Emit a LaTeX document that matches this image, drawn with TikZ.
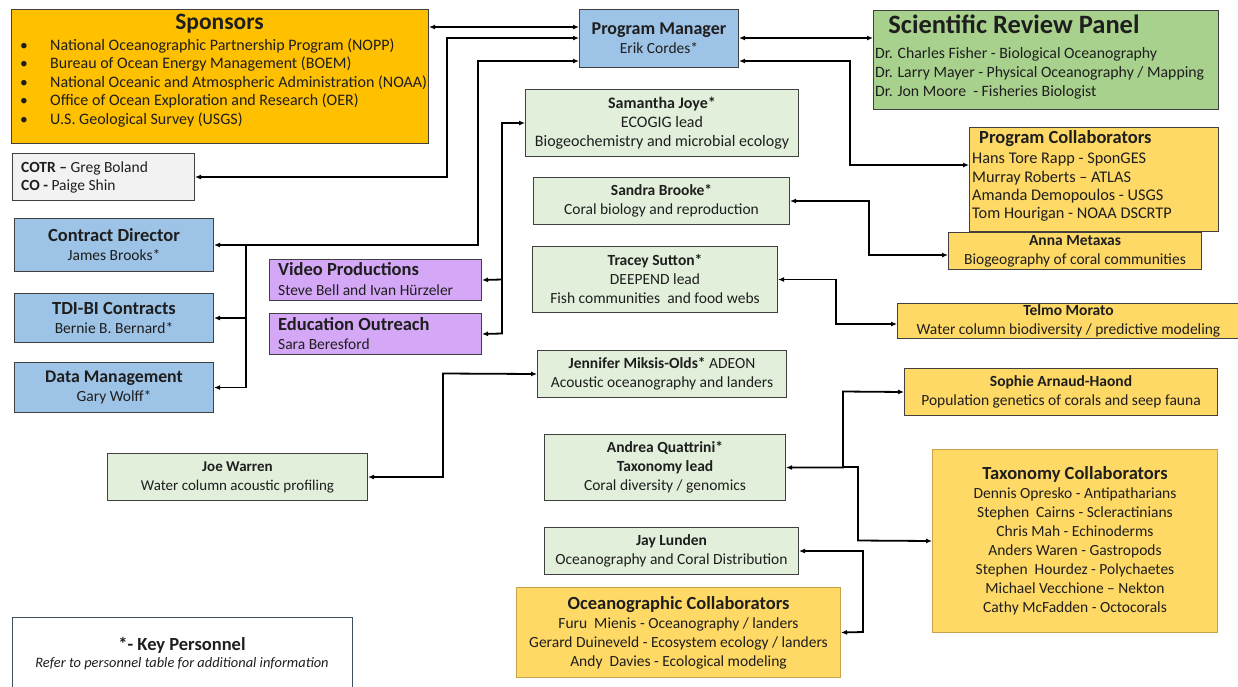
\documentclass[tikz,border=0pt]{standalone}
\usepackage{fontspec}
\setmainfont{Carlito}
\usetikzlibrary{arrows.meta}
\definecolor{sponsorY}{HTML}{FFC000}
\definecolor{collabY}{HTML}{FFD966}
\definecolor{pmblue}{HTML}{9DC3E6}
\definecolor{srpgreen}{HTML}{A9D18E}
\definecolor{lgreen}{HTML}{E2EFDA}
\definecolor{lgray}{HTML}{F2F2F2}
\definecolor{lav}{HTML}{D5A8F7}
\definecolor{bord}{HTML}{404040}
\definecolor{goldb}{HTML}{C9A24A}
\definecolor{txt}{HTML}{1E1E1E}
\definecolor{keyb}{HTML}{3F4E5E}
\newcommand\bodyf{\fontsize{15.5}{19}\selectfont}
\newcommand\headf{\fontsize{18.5}{21}\selectfont\bfseries}
\begin{document}
\begin{tikzpicture}[x=1pt,y=-1pt,
  box/.style={draw=bord, line width=1pt, inner sep=0pt, anchor=north west, font=\bodyf, align=center, text=txt},
  lbl/.style={anchor=base west, inner sep=0pt, text=txt, font=\bodyf},
  arr/.style={line width=1.8pt, -{Latex[length=6pt,width=5pt]}},
  dbl/.style={line width=1.8pt, {Latex[length=6pt,width=5pt]}-{Latex[length=6pt,width=5pt]}},
  ln/.style={line width=1.8pt}]
\useasboundingbox (0,0) rectangle (1238,686);
\fill[white] (0,0) rectangle (1238,686);

% Sponsors
\node[box, fill=sponsorY, minimum width=417pt, minimum height=134pt] (sponsors) at (11,9) {};
\node[anchor=base, inner sep=0pt, text=txt, font=\fontsize{23.5}{26}\selectfont\bfseries] at (219.5,29) {Sponsors};
\foreach \t [count=\i from 0] in {National Oceanographic Partnership Program (NOPP),Bureau of Ocean Energy Management (BOEM),National Oceanic and Atmospheric Administration (NOAA),Office of Ocean Exploration and Research (OER),U.S. Geological Survey (USGS)}{
  \node[lbl, font=\fontsize{16}{19}\selectfont] at (50,50+18.5*\i) {\t};
  \node[anchor=base, inner sep=0pt, text=txt, font=\bodyf] at (24,50+18.5*\i) {\textbullet};
}

% Program manager
\node[box, fill=pmblue, minimum width=159pt, minimum height=58pt] (pm) at (579,9) {{\fontsize{18}{21}\selectfont\bfseries Program Manager}\\Erik Cordes*};

% Scientific review panel
\node[box, fill=srpgreen, minimum width=345pt, minimum height=99pt] (srp) at (873,10) {};
\node[anchor=base, inner sep=0pt, text=txt, font=\fontsize{26.5}{28}\selectfont\bfseries] at (1014,33) {Scientific Review Panel};
\node[lbl, font=\fontsize{15.8}{19}\selectfont] at (875,58) {Dr. Charles Fisher - Biological Oceanography};
\node[lbl, font=\fontsize{15.8}{19}\selectfont] at (875,77) {Dr. Larry Mayer - Physical Oceanography / Mapping};
\node[lbl, font=\fontsize{15.8}{19}\selectfont] at (875,96) {Dr. Jon Moore\ \ - Fisheries Biologist};

% Program collaborators
\node[box, fill=collabY, minimum width=249pt, minimum height=104pt] (pc) at (969,127) {};
\node[lbl, font=\headf] at (979,143) {Program Collaborators};
\node[lbl, font=\fontsize{16.3}{19}\selectfont] at (972,163) {Hans Tore Rapp - SponGES};
\node[lbl, font=\fontsize{16.3}{19}\selectfont] at (972,182) {Murray Roberts -- ATLAS};
\node[lbl, font=\fontsize{16.3}{19}\selectfont] at (972,200) {Amanda Demopoulos - USGS};
\node[lbl, font=\fontsize{16.3}{19}\selectfont] at (972,218) {Tom Hourigan - NOAA DSCRTP};

% COTR
\node[box, fill=lgray, minimum width=182pt, minimum height=47pt] (cotr) at (12,153) {};
\node[lbl] at (21,172) {\textbf{COTR --} Greg Boland};
\node[lbl] at (21,190) {\textbf{CO -} Paige Shin};

% left blue column
\node[box, fill=pmblue, minimum width=199pt, minimum height=53pt] (cd) at (14,218) {{\headf Contract Director}\\James Brooks*};
\node[box, fill=pmblue, minimum width=199pt, minimum height=49pt] (tdi) at (14,293) {{\headf TDI-BI Contracts}\\Bernie B. Bernard*};
\node[box, fill=pmblue, minimum width=199pt, minimum height=50pt] (dm) at (14,362) {{\fontsize{17.8}{21}\selectfont\bfseries Data Management}\\Gary Wolff*};

% video / education
\node[box, fill=lav, minimum width=212pt, minimum height=41pt] (vid) at (269,259) {};
\node[lbl, font=\headf] at (278,275) {Video Productions};
\node[lbl] at (278,295) {Steve Bell and Ivan Hürzeler};
\node[box, fill=lav, minimum width=212pt, minimum height=41pt] (edu) at (269,313) {};
\node[lbl, font=\headf] at (278,330) {Education Outreach};
\node[lbl] at (278,349) {Sara Beresford};

% green personnel
\node[box, fill=lgreen, minimum width=273pt, minimum height=67pt, font=\fontsize{16}{19}\selectfont] (sj) at (525,89) {\textbf{Samantha Joye*}\\ECOGIG lead\\Biogeochemistry and microbial ecology};
\node[box, fill=lgreen, minimum width=256pt, minimum height=47pt] (sb) at (533,177) {\textbf{Sandra Brooke*}\\Coral biology and reproduction};
\node[box, fill=lgreen, minimum width=245pt, minimum height=66pt] (ts) at (532,246) {\textbf{Tracey Sutton*}\\DEEPEND lead\\Fish communities\ \ and food webs};
\node[box, fill=lgreen, minimum width=249pt, minimum height=47pt] (jm) at (537,350) {\textbf{Jennifer Miksis-Olds*} ADEON\\Acoustic oceanography and landers};
\node[box, fill=lgreen, minimum width=260pt, minimum height=47pt, font=\fontsize{15}{19}\selectfont] (jw) at (107,453) {\textbf{Joe Warren}\\Water column acoustic profiling};
\node[box, fill=lgreen, minimum width=241pt, minimum height=66pt] (aq) at (544,434) {\textbf{Andrea Quattrini*}\\\textbf{Taxonomy lead}\\Coral diversity / genomics};
\node[box, fill=lgreen, minimum width=254pt, minimum height=47pt] (jl) at (544,527) {\textbf{Jay Lunden}\\Oceanography and Coral Distribution};

% yellow collaborators
\node[box, fill=collabY, minimum width=253pt, minimum height=37pt] (am) at (948,232) {\textbf{Anna Metaxas}\\Biogeography of coral communities};
\node[box, fill=collabY, minimum width=342pt, minimum height=35pt] (tm) at (897,303) {\textbf{Telmo Morato}\\Water column biodiversity / predictive modeling};
\node[box, fill=collabY, minimum width=313pt, minimum height=47pt] (sah) at (904,368) {\textbf{Sophie Arnaud-Haond}\\Population genetics of corals and seep fauna};
\node[box, draw=goldb, fill=collabY, minimum width=285pt, minimum height=183pt] (tc) at (932,449) {{\headf Taxonomy Collaborators}\\Dennis Opresko - Antipatharians\\Stephen\ \ Cairns - Scleractinians\\Chris Mah - Echinoderms\\Anders Waren - Gastropods\\Stephen\ \ Hourdez - Polychaetes\\Michael Vecchione -- Nekton\\Cathy McFadden - Octocorals};
\node[box, draw=goldb, fill=collabY, minimum width=324pt, minimum height=90pt] (oc) at (516,587) {{\headf Oceanographic Collaborators}\\Furu\ \ Mienis - Oceanography / landers\\Gerard Duineveld - Ecosystem ecology / landers\\Andy\ \ Davies - Ecological modeling};

% key personnel
\node[box, draw=keyb, fill=white, minimum width=340pt, minimum height=80pt] (key) at (12,617) {};
\node[anchor=base, inner sep=0pt, text=txt, font=\fontsize{18.5}{20}\selectfont\bfseries] at (182,650) {*- Key Personnel};
\node[anchor=base, inner sep=0pt, text=txt, font=\fontsize{14.4}{16}\selectfont\itshape] at (182,667) {Refer to personnel table for additional information};

% connectors
\coordinate (c1) at (447,38);
\coordinate (c2) at (478,61);
\coordinate (c3) at (502,333.5);
\coordinate (cdj) at (246,244.5);
\coordinate (vj) at (502,279.5);
\coordinate (c4) at (850,165);
\coordinate (c5) at (869,255);
\coordinate (c6) at (836,324);
\coordinate (c7) at (443,373.5);
\coordinate (c8) at (843,391.5);
\coordinate (aqj) at (843,467);
\coordinate (c9) at (858,540.5);
\coordinate (c10) at (863,632);

\draw[dbl] (sponsors.east |- 0,27) -- (pm.west |- 0,27);
\draw[dbl] (cotr.east) -| (c1) -- (pm.west |- c1);
\draw[dbl] (cd.east) -| (c2) -- (pm.west |- c2);
\draw[arr] (cdj) |- (tdi.east);
\draw[arr] (cdj) |- (dm.east);
\draw[dbl] (sj.west) -| (c3) -- (edu.east);
\draw[arr] (vj) -- (vid.east);
\draw[dbl] (pm.east |- c1) -- (srp.west |- c1);
\draw[dbl] (pm.east |- c2) -| (c4) -- (pc.west |- c4);
\draw[dbl] (sb.east) -| (c5) -- (am.west |- c5);
\draw[dbl] (ts.east) -| (c6) -- (tm.west |- c6);
\draw[dbl] (jw.east) -| (c7) -- (jm.west);
\draw[dbl] (aq.east) -| (c8) -- (sah.west);
\draw[arr] (aqj) -| (c9) -- (tc.west);
\draw[dbl] (jl.east) -| (c10) -- (oc.east);
\end{tikzpicture}
\end{document}
